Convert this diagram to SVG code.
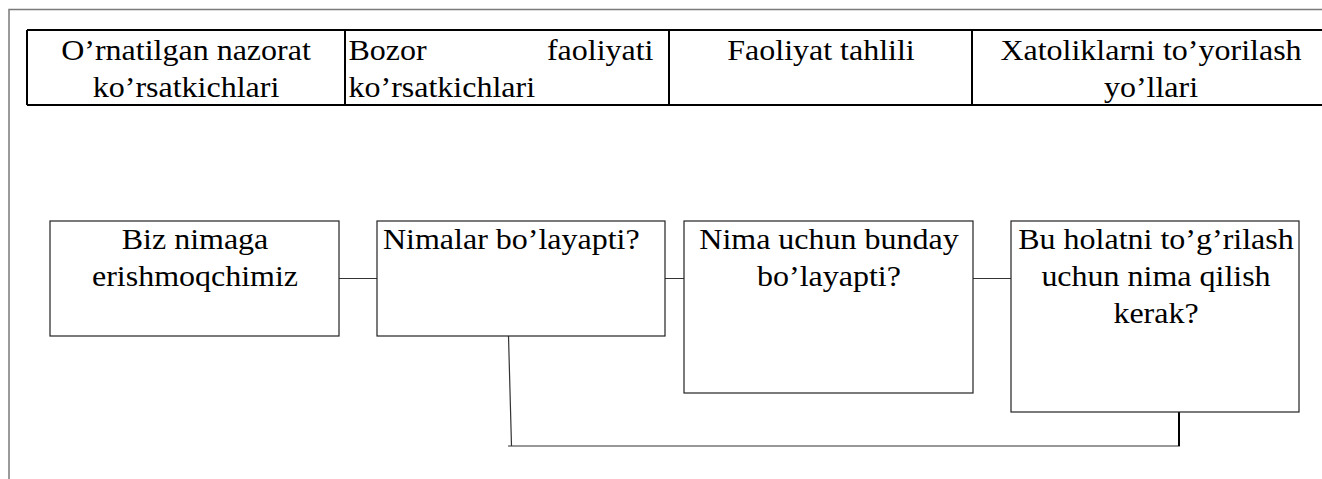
<svg xmlns="http://www.w3.org/2000/svg" width="1322" height="479" viewBox="0 0 1322 479">
<style>
.m{text-anchor:middle}
.e{text-anchor:end}
.box{fill:#fff;stroke:#222;stroke-width:1.2}
.tbl{stroke:#000;stroke-width:2;fill:none}
.frame{stroke:#7a7a7a;stroke-width:1.5;fill:none}
.conn{stroke:#333;stroke-width:1.2;fill:none}
.conn2{stroke:#000;stroke-width:2;fill:none}
</style>
<rect width="1322" height="479" fill="#fff"/>
<path class="frame" d="M9 479 V9.5 H1322"/>
<g id="table">
<path class="tbl" d="M27 30 H1322 M27 105 H1322 M27 30 V105 M345 30 V106 M669 30 V106 M972 30 V106"/>
<g id="col1">
<text class="m" font-family="Liberation Serif, serif" font-size="32" transform="translate(186,59.5) scale(1,0.89)">O’rnatilgan nazorat</text>
<text class="m" font-family="Liberation Serif, serif" font-size="32" transform="translate(186,96.5) scale(1,0.89)">ko’rsatkichlari</text>
</g>
<g id="col2">
<text font-family="Liberation Serif, serif" font-size="32" transform="translate(348.5,60) scale(1,0.89)">Bozor</text>
<text class="e" font-family="Liberation Serif, serif" font-size="32" transform="translate(653.5,60) scale(1,0.89)">faoliyati</text>
<text font-family="Liberation Serif, serif" font-size="32" transform="translate(348.5,96.5) scale(1,0.89)">ko’rsatkichlari</text>
</g>
<g id="col3">
<text class="m" font-family="Liberation Serif, serif" font-size="32" transform="translate(821,60) scale(1,0.89)">Faoliyat tahlili</text>
</g>
<g id="col4">
<text class="m" font-family="Liberation Serif, serif" font-size="32" transform="translate(1151,60) scale(1,0.89)">Xatoliklarni to’yorilash</text>
<text class="m" font-family="Liberation Serif, serif" font-size="32" transform="translate(1151,96.5) scale(1,0.89)">yo’llari</text>
</g>
</g>
<g id="connectors">
<path class="conn" d="M339 278.5 H377 M665 278.5 H684 M973 278.5 H1011"/>
<path class="conn" d="M508.5 336 L511.5 446 M508 446 H1180"/>
<path class="conn2" d="M1179 412 V446"/>
</g>
<g id="node1">
<rect class="box" x="50" y="221" width="289" height="115"/>
<text class="m" font-family="Liberation Serif, serif" font-size="32" transform="translate(195,249) scale(1,0.89)">Biz nimaga</text>
<text class="m" font-family="Liberation Serif, serif" font-size="32" transform="translate(195,285.5) scale(1,0.89)">erishmoqchimiz</text>
</g>
<g id="node2">
<rect class="box" x="377" y="221" width="288" height="115"/>
<text font-family="Liberation Serif, serif" font-size="32" transform="translate(383,249) scale(1,0.89)">Nimalar bo’layapti?</text>
</g>
<g id="node3">
<rect class="box" x="684" y="221" width="289" height="172"/>
<text class="m" font-family="Liberation Serif, serif" font-size="32" transform="translate(829,249) scale(1,0.89)">Nima uchun bunday</text>
<text class="m" font-family="Liberation Serif, serif" font-size="32" transform="translate(829,286) scale(1,0.89)">bo’layapti?</text>
</g>
<g id="node4">
<rect class="box" x="1011" y="221" width="288" height="191"/>
<text class="m" font-family="Liberation Serif, serif" font-size="32" transform="translate(1156,249) scale(1,0.89)">Bu holatni to’g’rilash</text>
<text class="m" font-family="Liberation Serif, serif" font-size="32" transform="translate(1156,286) scale(1,0.89)">uchun nima qilish</text>
<text class="m" font-family="Liberation Serif, serif" font-size="32" transform="translate(1156,323) scale(1,0.89)">kerak?</text>
</g>
</svg>
